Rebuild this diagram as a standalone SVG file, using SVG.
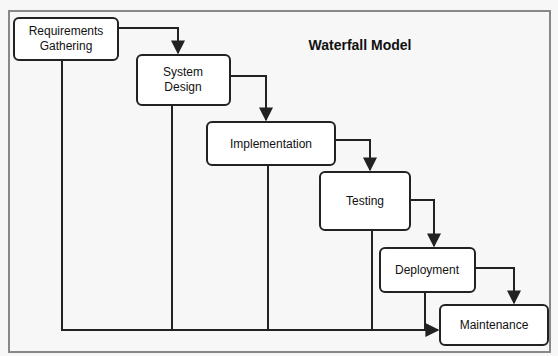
<svg xmlns="http://www.w3.org/2000/svg" width="558" height="356" viewBox="0 0 558 356">
<style>
.box{fill:#ffffff;stroke:#222;stroke-width:2}
.lbl{font-family:"Liberation Sans",Arial,sans-serif;font-size:12px;fill:#111;text-anchor:middle}
.ttl{font-family:"Liberation Sans",Arial,sans-serif;font-size:14px;font-weight:bold;fill:#111;text-anchor:middle}
.small{font-family:"Liberation Sans",Arial,sans-serif;font-size:10px;fill:#111;text-anchor:middle}
.con{fill:none;stroke:#222;stroke-width:2}
</style>
<defs>
<marker id="arr" viewBox="0 0 10 10" refX="9" refY="5" markerWidth="7" markerHeight="7" orient="auto-start-reverse">
<path d="M0,0 L10,5 L0,10 z" fill="#222"/>
</marker>
</defs>
<rect x="0" y="0" width="558" height="356" fill="#f7f7f7"/>
<rect x="9" y="11" width="541" height="341" fill="#f7f7f7" stroke="#888" stroke-width="2"/>
<text class="ttl" x="360" y="50">Waterfall Model</text>
<g id="connectors">
<path class="con" d="M118,28 H178 V53" marker-end="url(#arr)"/>
<path class="con" d="M230,76 H266 V120" marker-end="url(#arr)"/>
<path class="con" d="M335,140 H370 V170" marker-end="url(#arr)"/>
<path class="con" d="M410,200 H434 V246" marker-end="url(#arr)"/>
<path class="con" d="M475,268 H514 V303" marker-end="url(#arr)"/>
<path class="con" d="M62,60 V330 H438" marker-end="url(#arr)"/>
<path class="con" d="M172,105 V330"/>
<path class="con" d="M268,165 V330"/>
<path class="con" d="M372,230 V330"/>
<path class="con" d="M425,292 V330"/>
</g>
<g id="n1"><rect class="box" x="14" y="18" width="104" height="42" rx="5"/><text class="lbl" x="66" y="35">Requirements</text><text class="lbl" x="66" y="50">Gathering</text></g>
<g id="n2"><rect class="box" x="137" y="55" width="93" height="50" rx="5"/><text class="lbl" x="183" y="76">System</text><text class="lbl" x="183" y="91">Design</text></g>
<g id="n3"><rect class="box" x="207" y="122" width="128" height="43" rx="5"/><text class="lbl" x="271" y="148">Implementation</text></g>
<g id="n4"><rect class="box" x="320" y="172" width="90" height="58" rx="5"/><text class="lbl" x="365" y="205">Testing</text></g>
<g id="n5"><rect class="box" x="380" y="248" width="95" height="44" rx="5"/><text class="lbl" x="427" y="274">Deployment</text></g>
<g id="n6"><rect class="box" x="440" y="305" width="108" height="40" rx="5"/><text class="lbl" x="494" y="329">Maintenance</text></g>
</svg>
